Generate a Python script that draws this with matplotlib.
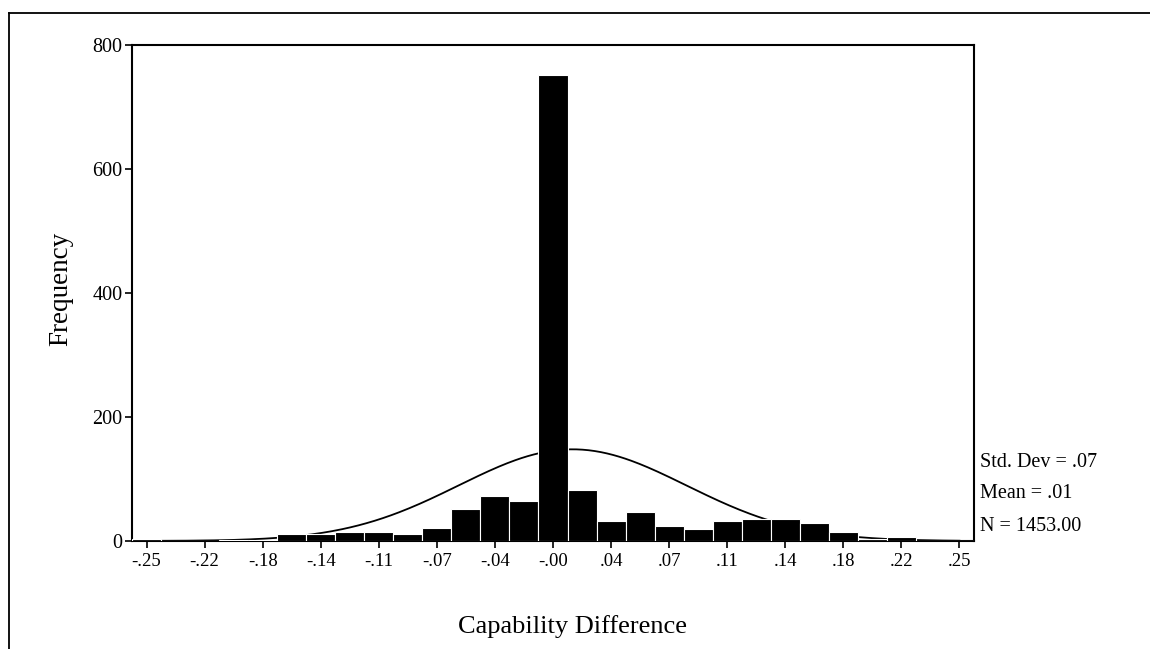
import numpy as np
import matplotlib.pyplot as plt

bin_width = 0.25 / 14
centers = np.round(np.arange(-14, 15) * bin_width, 5)
counts = [3, 0, 0, 1, 2, 11, 12, 15, 14, 12, 21, 52, 73, 65, 752,
          83, 32, 46, 24, 20, 32, 35, 35, 29, 14, 4, 6, 0, 0]
tick_labels = ['-.25', '-.22', '-.18', '-.14', '-.11', '-.07', '-.04', '-.00',
               '.04', '.07', '.11', '.14', '.18', '.22', '.25']

# summary stats shown beside the chart
std_dev = 0.07
mean = 0.012
n_total = 1453

plt.rcParams['font.family'] = ['Liberation Serif', 'DejaVu Serif']

fig = plt.figure(figsize=(11.5, 6.49), dpi=100)
ax = fig.add_axes([132 / 1150, 1 - 541 / 649, (974 - 132) / 1150, (541 - 45) / 649])

ax.bar(centers, counts, width=bin_width, color='black', edgecolor='white',
       linewidth=0.8, zorder=3)

# fitted normal curve
xs = np.linspace(-0.25, 0.25, 400)
ys = n_total * bin_width / (std_dev * np.sqrt(2 * np.pi)) * np.exp(-0.5 * ((xs - mean) / std_dev) ** 2)
ax.plot(xs, ys, color='black', linewidth=1.3, zorder=2)

ax.set_xlim(-0.25 - bin_width / 2, 0.25 + bin_width / 2)
ax.set_ylim(0, 800)
ax.set_xticks(centers[::2])
ax.set_xticklabels(tick_labels)
ax.set_yticks([0, 200, 400, 600, 800])
ax.tick_params(axis='both', length=5, width=1.2, color='black')
ax.tick_params(axis='x', labelsize=13.5, pad=4)
ax.tick_params(axis='y', labelsize=14.5, pad=2)
for sp in ax.spines.values():
    sp.set_linewidth(1.5)

# axis titles placed in figure coords
fig.text(572 / 1150, 1 - 633 / 649, 'Capability Difference', fontsize=19,
         ha='center', va='baseline')
fig.text(61 / 1150, 1 - 289 / 649, 'Frequency', fontsize=19.5, rotation=90,
         ha='center', va='center')

tr = ax.get_yaxis_transform()
ax.text(1.007, 127, 'Std. Dev = .07', transform=tr, fontsize=14.5, va='center', ha='left')
ax.text(1.007, 76, 'Mean = .01', transform=tr, fontsize=14.5, va='center', ha='left')
ax.text(1.007, 23, 'N = 1453.00', transform=tr, fontsize=14.5, va='center', ha='left')

# outer frame lines (top and left only)
fig.add_artist(plt.Line2D([9 / 1150, 1], [1 - 13 / 649, 1 - 13 / 649], color='black', linewidth=1.3))
fig.add_artist(plt.Line2D([9 / 1150, 9 / 1150], [0, 1 - 13 / 649], color='black', linewidth=1.3))

fig.savefig('out.png', dpi=100)
